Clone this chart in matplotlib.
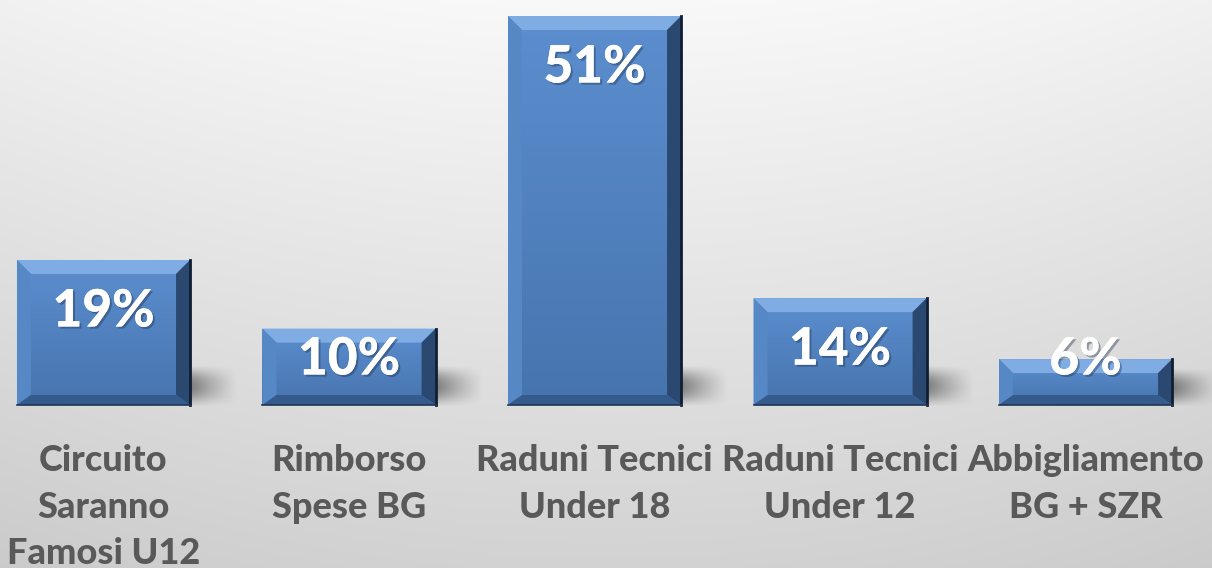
import numpy as np
import matplotlib.pyplot as plt
from matplotlib.patches import Polygon
import matplotlib.patheffects as pe

# data
categories = ["Circuito\nSaranno\nFamosi U12", "Rimborso\nSpese BG",
              "Raduni Tecnici\nUnder 18", "Raduni Tecnici\nUnder 12",
              "Abbigliamento\nBG + SZR"]
shares = [19, 10, 51, 14, 6]
labels = ["19%", "10%", "51%", "14%", "6%"]

W, H = 1212, 568
fig = plt.figure(figsize=(W / 100, H / 100), dpi=100)
ax = fig.add_axes([0, 0, 1, 1])
x0, x1 = -0.4216, 4.515
y0, y1 = -21.4, 53.1
ax.set_xlim(x0, x1)
ax.set_ylim(y0, y1)
ax.axis("off")

px_x = (x1 - x0) / W   # data units per pixel
px_y = (y1 - y0) / H

# background: light at top centre, grey towards the bottom
gy = np.linspace(0, 1, 300)[:, None]
gx = np.linspace(-1, 1, 400)[None, :]
bg = 0.975 - 0.15 * gy - 0.03 * gx ** 2
ax.imshow(np.dstack([bg, bg, bg]), extent=(x0, x1, y0, y1), origin="upper",
          aspect="auto", zorder=0, interpolation="bilinear")

bars = ax.bar(range(len(shares)), shares, width=0.705, color="none",
              edgecolor="none", zorder=3)

face = np.linspace(0, 1, 100)[:, None]
top_c = np.array([0x5c, 0x8e, 0xcf]) / 255
bot_c = np.array([0x46, 0x74, 0xae]) / 255
face_img = top_c * (1 - face[..., None]) + bot_c * face[..., None]
face_img = np.repeat(face_img, 2, axis=1)

b = 14
for bar, lab in zip(bars, labels):
    bx, by = bar.get_x(), bar.get_y()
    bw, bh = bar.get_width(), bar.get_height()
    L, R, B, T = bx, bx + bw, by, by + bh

    # soft shadow to the lower right
    sw, sh = 48 * px_x, min(40, bh / px_y * 0.8) * px_y
    sx = np.linspace(0, 1, 60)[None, :]
    sy = np.linspace(0, 1, 60)[:, None]
    alpha = np.clip(1 - sx, 0, 1) ** 1.2 * np.sin(np.pi * sy) ** 1.2 * 0.45
    shadow = np.zeros((60, 60, 4))
    shadow[..., 3] = alpha
    ax.imshow(shadow, extent=(R - 2 * px_x, R + sw, B - 2 * px_y, B + sh),
              origin="upper", aspect="auto", zorder=2, interpolation="bilinear")

    im = ax.imshow(face_img, extent=(L, R, B, T), origin="upper",
                   aspect="auto", zorder=3, interpolation="bilinear")
    im.set_clip_path(bar)

    dx, dy = b * px_x, b * px_y
    bevels = [
        ([(L, T), (R, T), (R - dx, T - dy), (L + dx, T - dy)], "#80ace4"),
        ([(L, B), (L, T), (L + dx, T - dy), (L + dx, B + dy * 0.7)], "#5788c6"),
        ([(R, B), (R, T), (R - dx, T - dy), (R - dx, B + dy * 0.7)], "#2a4870"),
        ([(L, B), (R, B), (R - dx, B + dy * 0.7), (L + dx, B + dy * 0.7)],
         "#355a8c"),
    ]
    for pts, c in bevels:
        ax.add_patch(Polygon(pts, closed=True, facecolor=c, edgecolor="none",
                             zorder=4))
    ax.plot([R, R], [B, T], color="#101e33", lw=2, zorder=5)
    ax.plot([L, R], [B, B], color="#1f3554", lw=1.2, zorder=5)

    # label sits ~52px under the bar top, but never lower than 360px
    ly = max(T - 52 * px_y, y1 - 360 * px_y)
    ax.text(bx + bw / 2, ly, lab, ha="center", va="center",
            color="white", fontsize=37, fontweight=900, family="Lato",
            zorder=6,
            path_effects=[pe.withSimplePatchShadow(offset=(1.5, -1.5),
                                                   shadow_rgbFace="#1c2f4a",
                                                   alpha=0.4), pe.Normal()])

for i, cat in enumerate(categories):
    ax.text(i, y1 - 444 * px_y, cat, ha="center", va="top", color="#595959",
            fontsize=26, fontweight=900, family="Lato", linespacing=1.5,
            zorder=6)

fig.savefig("out.png", dpi=100)
